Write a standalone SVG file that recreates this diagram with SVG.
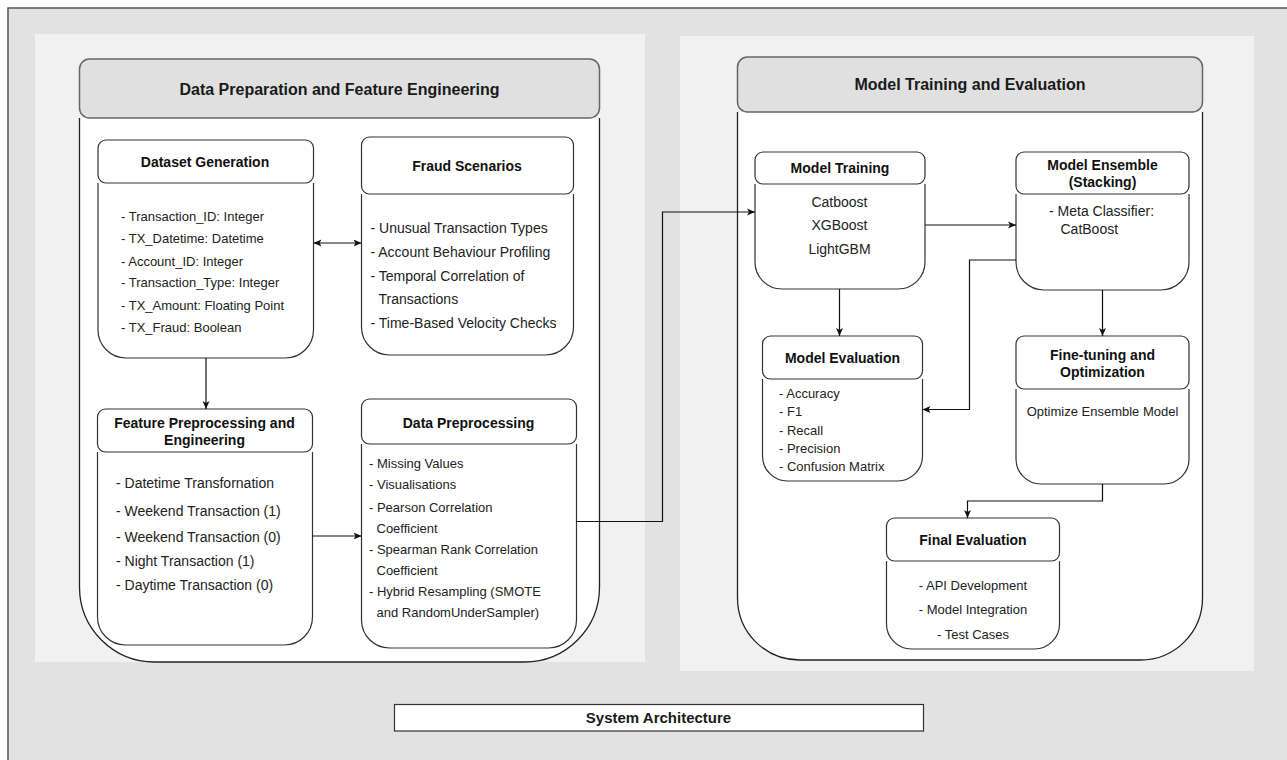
<svg xmlns="http://www.w3.org/2000/svg" width="1287" height="760" viewBox="0 0 1287 760">
<defs>
<style>
.bg{fill:#e2e2e2;stroke:#555;stroke-width:1.5}
.panel{fill:#f1f1f1;stroke:none}
.chead{fill:#e0e0e0;stroke:#666;stroke-width:1.5}
.cbody{fill:#fff;stroke:#222;stroke-width:1.3}
.nh{fill:#fff;stroke:#333;stroke-width:1.2}
.nb{fill:#fff;stroke:#333;stroke-width:1.2}
text{font-family:"Liberation Sans",Arial,sans-serif;fill:#1a1a1a}
.ct{font-size:16px;font-weight:bold;text-anchor:middle}
.t{font-size:14px;font-weight:bold;text-anchor:middle;fill:#111}
.i14{font-size:14px;fill:#222}
.i13{font-size:13px;fill:#222}
.m{text-anchor:middle}
.cn{fill:none;stroke:#111;stroke-width:1.2}
</style>
<marker id="ah" viewBox="0 0 8 8" markerWidth="8" markerHeight="8" refX="8" refY="4" orient="auto-start-reverse" markerUnits="userSpaceOnUse">
<path d="M0,0.5 L8,4 L0,7.5 L2,4 Z" fill="#111"/>
</marker>
</defs>

<rect class="bg" x="8" y="8" width="1295" height="770"/>
<rect class="panel" x="35" y="34" width="610" height="628"/>
<rect class="panel" x="680" y="36" width="574" height="635"/>

<g id="container-left">
<path class="cbody" d="M79.5,118 L79.5,587 A75,75 0 0 0 154.5,662 L524.5,662 A75,75 0 0 0 599.5,587 L599.5,118"/>
<rect class="chead" x="79.5" y="59" width="520" height="59" rx="10"/>
<text class="ct" x="339.5" y="95">Data Preparation and Feature Engineering</text>
</g>

<g id="container-right">
<path class="cbody" d="M737.5,112 L737.5,598 A62,62 0 0 0 799.5,660 L1140.5,660 A62,62 0 0 0 1202.5,598 L1202.5,112"/>
<rect class="chead" x="737.5" y="57" width="465" height="55" rx="10"/>
<text class="ct" x="970" y="90">Model Training and Evaluation</text>
</g>

<g id="dataset-generation">
<path class="nb" d="M98,183 L98,330 A28,28 0 0 0 126,358 L285.5,358 A28,28 0 0 0 313.5,330 L313.5,183"/>
<rect class="nh" x="98" y="140" width="215.5" height="43" rx="8"/>
<text class="t" x="205" y="167">Dataset Generation</text>
<text class="i13" x="121" y="221">- Transaction_ID: Integer</text>
<text class="i13" x="121" y="242.5">- TX_Datetime: Datetime</text>
<text class="i13" x="121" y="265.5">- Account_ID: Integer</text>
<text class="i13" x="121" y="287">- Transaction_Type: Integer</text>
<text class="i13" x="121" y="310">- TX_Amount: Floating Point</text>
<text class="i13" x="121" y="331.5">- TX_Fraud: Boolean</text>
</g>

<g id="fraud-scenarios">
<path class="nb" d="M361.5,194 L361.5,327 A28,28 0 0 0 389.5,355 L545.5,355 A28,28 0 0 0 573.5,327 L573.5,194"/>
<rect class="nh" x="361.5" y="137" width="212" height="57" rx="8"/>
<text class="t" x="467" y="171">Fraud Scenarios</text>
<text class="i14" x="370.5" y="233">- Unusual Transaction Types</text>
<text class="i14" x="370.5" y="256.5">- Account Behaviour Profiling</text>
<text class="i14" x="370.5" y="280.5">- Temporal Correlation of</text>
<text class="i14" x="378.5" y="304">Transactions</text>
<text class="i14" x="370.5" y="327.5">- Time-Based Velocity Checks</text>
</g>

<g id="feature-preprocessing">
<path class="nb" d="M97.5,452 L97.5,617 A28,28 0 0 0 125.5,645 L284.5,645 A28,28 0 0 0 312.5,617 L312.5,452"/>
<rect class="nh" x="97.5" y="409" width="215" height="43" rx="8"/>
<text class="t" x="204.5" y="427.5">Feature Preprocessing and</text>
<text class="t" x="204.5" y="445">Engineering</text>
<text class="i14" x="116" y="487.5">- Datetime Transfornation</text>
<text class="i14" x="116" y="515.5">- Weekend Transaction (1)</text>
<text class="i14" x="116" y="541.5">- Weekend Transaction (0)</text>
<text class="i14" x="116" y="566">- Night Transaction (1)</text>
<text class="i14" x="116" y="590">- Daytime Transaction (0)</text>
</g>

<g id="data-preprocessing">
<path class="nb" d="M361.5,444 L361.5,620 A28,28 0 0 0 389.5,648 L548.5,648 A28,28 0 0 0 576.5,620 L576.5,444"/>
<rect class="nh" x="361.5" y="399" width="215" height="45" rx="8"/>
<text class="t" x="468.5" y="427.5">Data Preprocessing</text>
<text class="i13" x="369" y="467.5">- Missing Values</text>
<text class="i13" x="369" y="488.5">- Visualisations</text>
<text class="i13" x="369" y="511.5">- Pearson Correlation</text>
<text class="i13" x="376.5" y="532.5">Coefficient</text>
<text class="i13" x="369" y="553.5">- Spearman Rank Correlation</text>
<text class="i13" x="376.5" y="574.5">Coefficient</text>
<text class="i13" x="369" y="595.5">- Hybrid Resampling (SMOTE</text>
<text class="i13" x="376.5" y="616.5">and RandomUnderSampler)</text>
</g>

<g id="model-training">
<path class="nb" d="M755,184 L755,262 A27,27 0 0 0 782,289 L898,289 A27,27 0 0 0 925,262 L925,184"/>
<rect class="nh" x="755" y="152" width="170" height="32" rx="8"/>
<text class="t" x="840" y="172.5">Model Training</text>
<text class="i14 m" x="839.5" y="206.5">Catboost</text>
<text class="i14 m" x="839.5" y="230">XGBoost</text>
<text class="i14 m" x="839.5" y="254">LightGBM</text>
</g>

<g id="model-ensemble">
<path class="nb" d="M1016,194 L1016,262 A28,28 0 0 0 1044,290 L1161,290 A28,28 0 0 0 1189,262 L1189,194"/>
<rect class="nh" x="1016" y="152" width="173" height="42" rx="8"/>
<text class="t" x="1102.5" y="169.5">Model Ensemble</text>
<text class="t" x="1102.5" y="187">(Stacking)</text>
<text class="i14" x="1049" y="215.5">- Meta Classifier:</text>
<text class="i14" x="1060.5" y="234">CatBoost</text>
</g>

<g id="model-evaluation">
<path class="nb" d="M762.5,379 L762.5,456 A25,25 0 0 0 787.5,481 L897.5,481 A25,25 0 0 0 922.5,456 L922.5,379"/>
<rect class="nh" x="762.5" y="336" width="160" height="43" rx="8"/>
<text class="t" x="842.5" y="363">Model Evaluation</text>
<text class="i13" x="779" y="398">- Accuracy</text>
<text class="i13" x="779" y="416">- F1</text>
<text class="i13" x="779" y="434.5">- Recall</text>
<text class="i13" x="779" y="452.5">- Precision</text>
<text class="i13" x="779" y="471">- Confusion Matrix</text>
</g>

<g id="fine-tuning">
<path class="nb" d="M1016,389 L1016,459 A25,25 0 0 0 1041,484 L1164,484 A25,25 0 0 0 1189,459 L1189,389"/>
<rect class="nh" x="1016" y="336" width="173" height="53" rx="8"/>
<text class="t" x="1102.5" y="359.5">Fine-tuning and</text>
<text class="t" x="1102.5" y="377">Optimization</text>
<text class="i13 m" x="1102.5" y="415.5">Optimize Ensemble Model</text>
</g>

<g id="final-evaluation">
<path class="nb" d="M886.5,561 L886.5,624 A25,25 0 0 0 911.5,649 L1034.5,649 A25,25 0 0 0 1059.5,624 L1059.5,561"/>
<rect class="nh" x="886.5" y="518" width="173" height="43" rx="8"/>
<text class="t" x="973" y="545">Final Evaluation</text>
<text class="i13 m" x="973" y="590">- API Development</text>
<text class="i13 m" x="973" y="614">- Model Integration</text>
<text class="i13 m" x="973" y="639">- Test Cases</text>
</g>

<g id="title-box">
<rect x="394.5" y="704.5" width="529" height="26.5" fill="#fff" stroke="#333" stroke-width="1.2"/>
<text class="ct" style="font-size:15px" x="658.5" y="722.5">System Architecture</text>
</g>

<g id="connectors">
<path class="cn" d="M313.5,243 L361.5,243" marker-start="url(#ah)" marker-end="url(#ah)"/>
<path class="cn" d="M206,358 L206,409" marker-end="url(#ah)"/>
<path class="cn" d="M312.5,536 L361.5,536" marker-end="url(#ah)"/>
<path class="cn" d="M576.5,521.5 L662.5,521.5 L662.5,212 L755,212" marker-end="url(#ah)"/>
<path class="cn" d="M925,225 L1016,225" marker-end="url(#ah)"/>
<path class="cn" d="M839.5,289 L839.5,336" marker-end="url(#ah)"/>
<path class="cn" d="M1016,260 L969.5,260 L969.5,409.5 L922.5,409.5" marker-end="url(#ah)"/>
<path class="cn" d="M1102.5,290 L1102.5,336" marker-end="url(#ah)"/>
<path class="cn" d="M1102.5,484 L1102.5,501 L967.5,501 L967.5,518" marker-end="url(#ah)"/>
</g>
</svg>
